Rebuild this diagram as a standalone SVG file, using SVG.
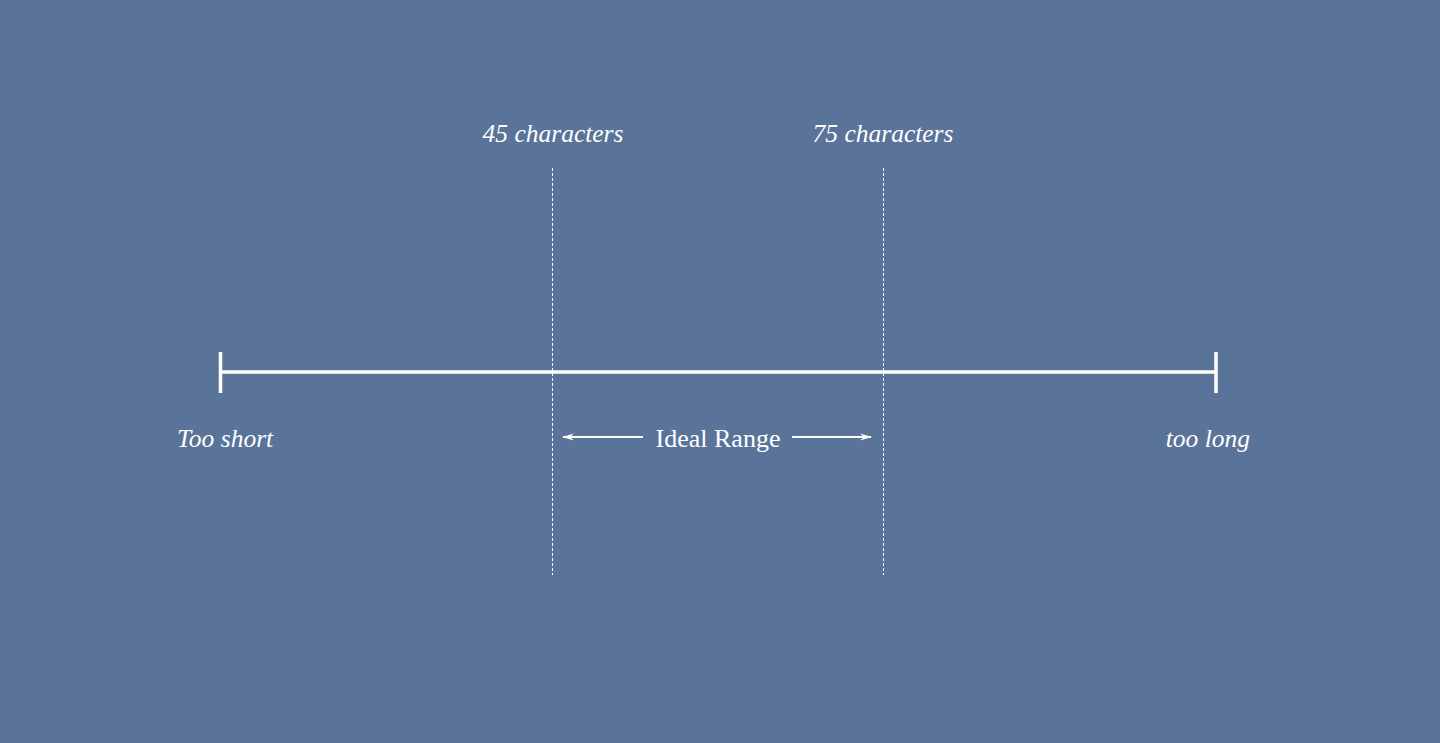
<svg xmlns="http://www.w3.org/2000/svg" width="1440" height="743" viewBox="0 0 1440 743">
<defs>
<style>
.lbl{font-family:"Liberation Serif","DejaVu Serif",serif;font-style:italic;font-size:25.5px;fill:#ffffff}
.mid{font-family:"Liberation Serif","DejaVu Serif",serif;font-size:26px;fill:#ffffff}
.dash{stroke:#ffffff;stroke-width:1;stroke-dasharray:3 2;fill:none}
.bar{stroke:#ffffff;stroke-width:3.5;fill:none}
.arr{stroke:#ffffff;stroke-width:2;fill:none}
</style>
<marker id="ah" viewBox="0 0 12 10" refX="11" refY="5" markerWidth="12" markerHeight="10" markerUnits="userSpaceOnUse" orient="auto-start-reverse">
<path d="M0,1.5 L12,5 L0,8.5 L4,5 Z" fill="#ffffff"/>
</marker>
</defs>
<rect width="1440" height="743" fill="#5a7399"/>
<g id="connectors">
<line class="dash" x1="552.5" y1="168" x2="552.5" y2="575"/>
<line class="dash" x1="883.5" y1="168" x2="883.5" y2="575"/>
<line class="bar" x1="220" y1="372" x2="1216" y2="372"/>
<line class="bar" x1="220.5" y1="352" x2="220.5" y2="393"/>
<line class="bar" x1="1216" y1="352" x2="1216" y2="393"/>
<line class="arr" x1="643" y1="437" x2="563" y2="437" marker-end="url(#ah)"/>
<line class="arr" x1="792" y1="437" x2="871" y2="437" marker-end="url(#ah)"/>
</g>
<g id="label-45"><text class="lbl" x="553" y="142" text-anchor="middle">45 characters</text></g>
<g id="label-75"><text class="lbl" x="883" y="142" text-anchor="middle">75 characters</text></g>
<g id="label-short"><text class="lbl" x="177" y="447">Too short</text></g>
<g id="label-long"><text class="lbl" x="1250" y="447" text-anchor="end">too long</text></g>
<g id="label-ideal"><text class="mid" x="718" y="447" text-anchor="middle">Ideal Range</text></g>
</svg>
